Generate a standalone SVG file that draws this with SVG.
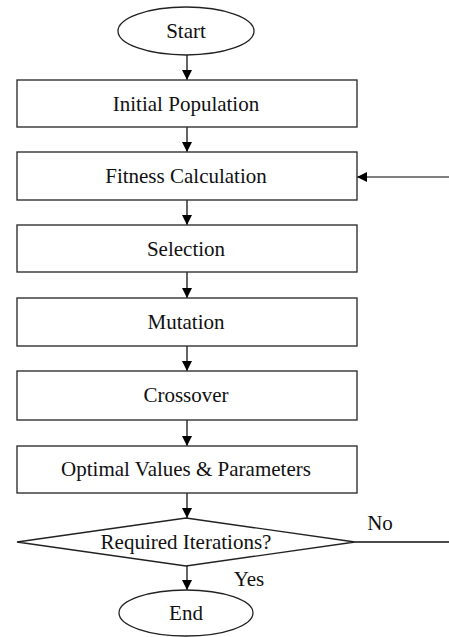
<svg xmlns="http://www.w3.org/2000/svg" width="449" height="637" viewBox="0 0 449 637">
<defs>
<style>
.box{fill:#fff;stroke:#333;stroke-width:1.4}
.term{fill:#fff;stroke:#222;stroke-width:1.3}
.lbl{font-family:"Liberation Serif","Times New Roman",serif;font-size:21px;fill:#111;text-anchor:middle}
.conn{stroke:#111;stroke-width:1.3;fill:none}
</style>
<marker id="ah" markerWidth="10" markerHeight="12" refX="10" refY="6" orient="auto" markerUnits="userSpaceOnUse">
<path d="M0,1 L10,6 L0,11 Z" fill="#000"/>
</marker>
</defs>
<rect width="449" height="637" fill="#fff"/>
<g id="connectors">
<line class="conn" x1="187" y1="55" x2="187" y2="80" marker-end="url(#ah)"/>
<line class="conn" x1="187" y1="127" x2="187" y2="152" marker-end="url(#ah)"/>
<line class="conn" x1="187" y1="200" x2="187" y2="225" marker-end="url(#ah)"/>
<line class="conn" x1="187" y1="272" x2="187" y2="298" marker-end="url(#ah)"/>
<line class="conn" x1="187" y1="346" x2="187" y2="371" marker-end="url(#ah)"/>
<line class="conn" x1="187" y1="420" x2="187" y2="446" marker-end="url(#ah)"/>
<line class="conn" x1="187" y1="493" x2="187" y2="518" marker-end="url(#ah)"/>
<line class="conn" x1="187" y1="566" x2="187" y2="590" marker-end="url(#ah)"/>
<line class="conn" x1="355" y1="542" x2="449" y2="542"/>
<line class="conn" x1="449" y1="177" x2="357" y2="177" stroke="#555" stroke-width="1.6" marker-end="url(#ah)" style="stroke:#555"/>
<text class="lbl" x="380" y="530">No</text>
<text class="lbl" x="249" y="586">Yes</text>
</g>
<g id="start">
<ellipse class="term" cx="186" cy="31" rx="68" ry="24"/>
<text class="lbl" x="186" y="38">Start</text>
</g>
<g id="initial">
<rect class="box" x="17" y="80" width="340" height="47"/>
<text class="lbl" x="186" y="111">Initial Population</text>
</g>
<g id="fitness">
<rect class="box" x="17" y="152" width="340" height="48"/>
<text class="lbl" x="186" y="183">Fitness Calculation</text>
</g>
<g id="selection">
<rect class="box" x="17" y="225" width="340" height="47"/>
<text class="lbl" x="186" y="256">Selection</text>
</g>
<g id="mutation">
<rect class="box" x="17" y="298" width="340" height="48"/>
<text class="lbl" x="186" y="329">Mutation</text>
</g>
<g id="crossover">
<rect class="box" x="17" y="371" width="340" height="49"/>
<text class="lbl" x="186" y="402">Crossover</text>
</g>
<g id="optimal">
<rect class="box" x="17" y="446" width="340" height="47"/>
<text class="lbl" x="186" y="476">Optimal Values &amp; Parameters</text>
</g>
<g id="decision">
<polygon class="box" points="186,518 355,542 186,566 17,542" style="stroke:#222"/>
<text class="lbl" x="186" y="549">Required Iterations?</text>
</g>
<g id="end">
<ellipse class="term" cx="186" cy="613" rx="67" ry="23"/>
<text class="lbl" x="186" y="620">End</text>
</g>
</svg>
